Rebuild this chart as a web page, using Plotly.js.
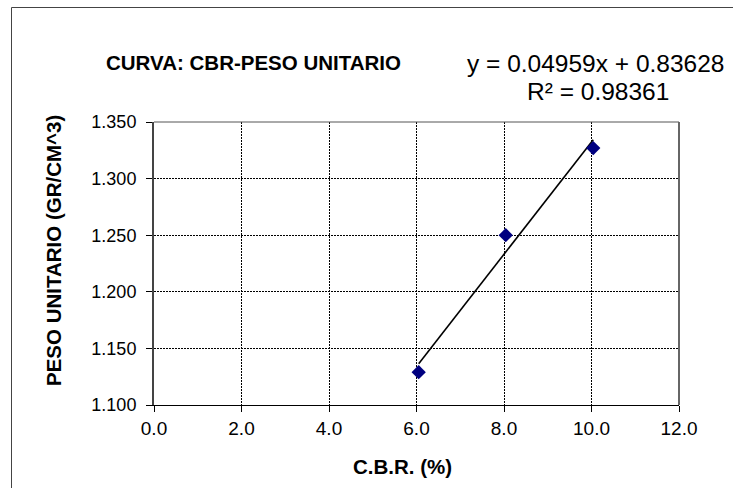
<!DOCTYPE html>
<html>
<head>
<meta charset="utf-8">
<script src="https://cdn.plot.ly/plotly-3.0.1.min.js"></script>
<style>
html,body{margin:0;padding:0;background:#fff;}
#chart{width:733px;height:488px;}
</style>
</head>
<body>
<div id="chart"></div>
<script>
// Data
const cbr = [6.05, 8.04, 10.04];          // C.B.R. (%)
const pesoUnitario = [1.129, 1.250, 1.327]; // GR/CM^3
const xTickVals = [0, 2, 4, 6, 8, 10, 12];
const xTickText = ["0.0", "2.0", "4.0", "6.0", "8.0", "10.0", "12.0"];
const yTickVals = [1.10, 1.15, 1.20, 1.25, 1.30, 1.35];
const yTickText = ["1.100", "1.150", "1.200", "1.250", "1.300", "1.350"];
const chartTitle = "CURVA: CBR-PESO UNITARIO";
const eqLine1 = "y = 0.04959x + 0.83628";
const eqLine2 = "R² = 0.98361";
const xTitle = "C.B.R. (%)";
const yTitle = "PESO UNITARIO (GR/CM^3)";

// Least-squares linear trendline from the data (as the spreadsheet does)
const n = cbr.length;
const mx = cbr.reduce((a,b)=>a+b,0)/n;
const my = pesoUnitario.reduce((a,b)=>a+b,0)/n;
let sxy = 0, sxx = 0;
for (let i=0;i<n;i++){ sxy += (cbr[i]-mx)*(pesoUnitario[i]-my); sxx += (cbr[i]-mx)*(cbr[i]-mx); }
const slope = sxy/sxx, intercept = my - slope*mx;
const tx = [Math.min(...cbr), Math.max(...cbr)];
const ty = tx.map(v => slope*v + intercept);

const FONT = '"Liberation Sans", Arial, sans-serif';

const L = 154, R = 679, T = 122, B = 405;
const W = R - L, H = B - T;
const px = v => (v - L) / W;
const py = v => (B - v) / H;

const traces = [
  {x: tx, y: ty, mode: 'lines', type: 'scatter',
   line: {color: '#000000', width: 1.6}, hoverinfo: 'skip', showlegend: false},
  {x: cbr, y: pesoUnitario, mode: 'markers', type: 'scatter',
   marker: {symbol: 'diamond', size: 11, color: '#000080', line: {width: 0}},
   showlegend: false}
];

const layout = {
  width: 733, height: 488,
  margin: {l: L, r: 733 - R, t: T, b: 488 - B, pad: 0},
  paper_bgcolor: '#ffffff', plot_bgcolor: '#ffffff',
  font: {family: FONT, color: '#000000'},
  showlegend: false,
  xaxis: {
    range: [0, 12], tickvals: xTickVals, ticktext: xTickText,
    showgrid: true, gridcolor: '#000000', gridwidth: 1, griddash: '2px,1px',
    zeroline: false, showline: true, linecolor: '#000000', linewidth: 1, mirror: false,
    ticks: 'outside', ticklen: 6, tickcolor: '#000000', tickwidth: 1,
    tickfont: {family: FONT, size: 19, color: '#000000'}, fixedrange: true
  },
  yaxis: {
    range: [1.10, 1.35], tickvals: yTickVals, ticktext: yTickText,
    showgrid: true, gridcolor: '#000000', gridwidth: 1, griddash: '2px,1px',
    zeroline: false, showline: true, linecolor: '#444444', linewidth: 2, mirror: false,
    ticks: 'outside', ticklen: 6, tickcolor: '#000000', tickwidth: 1,
    ticklabelstandoff: 6,
    tickfont: {family: FONT, size: 18, color: '#000000'}, fixedrange: true
  },
  shapes: [
    // plot area frame (top / right)
    {type: 'line', xref: 'paper', yref: 'paper', x0: 0, x1: 1, y0: 1, y1: 1,
     line: {color: '#555555', width: 1}},
    {type: 'line', xref: 'paper', yref: 'paper', x0: 1, x1: 1, y0: 0, y1: 1,
     line: {color: '#666666', width: 2}},
    // outer chart border
    {type: 'rect', xref: 'paper', yref: 'paper',
     x0: px(11.5), x1: px(760), y0: py(7.5), y1: py(520),
     line: {color: '#444444', width: 1}, fillcolor: 'rgba(0,0,0,0)'}
  ],
  annotations: [
    {text: chartTitle, xref: 'paper', yref: 'paper', x: px(253), y: py(62.5),
     xanchor: 'center', yanchor: 'middle', showarrow: false,
     font: {family: FONT, size: 20.5, color: '#000000', weight: 'bold'}},
    {text: eqLine1, xref: 'paper', yref: 'paper', x: px(595.5), y: py(63),
     xanchor: 'center', yanchor: 'middle', showarrow: false,
     font: {family: FONT, size: 24.5, color: '#000000'}},
    {text: eqLine2, xref: 'paper', yref: 'paper', x: px(597.5), y: py(92),
     xanchor: 'center', yanchor: 'middle', showarrow: false,
     font: {family: FONT, size: 24.5, color: '#000000'}},
    {text: xTitle, xref: 'paper', yref: 'paper', x: px(402), y: py(466),
     xanchor: 'center', yanchor: 'middle', showarrow: false,
     font: {family: FONT, size: 20.5, color: '#000000', weight: 'bold'}},
    {text: yTitle, xref: 'paper', yref: 'paper', x: px(53), y: py(251),
     xanchor: 'center', yanchor: 'middle', showarrow: false, textangle: -90,
     font: {family: FONT, size: 20.5, color: '#000000', weight: 'bold'}}
  ]
};

Plotly.newPlot('chart', traces, layout, {staticPlot: true, displayModeBar: false});
</script>
</body>
</html>
